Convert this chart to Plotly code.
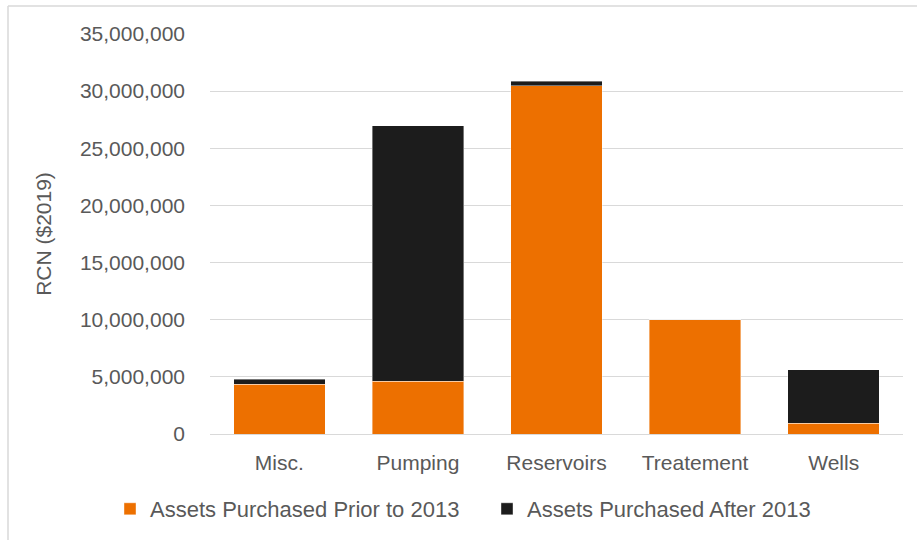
import plotly.graph_objects as go

categories = ["Misc.", "Pumping", "Reservoirs", "Treatement", "Wells"]
prior_2013 = [4350000, 4610000, 30470000, 9990000, 960000]
after_2013 = [440000, 22360000, 380000, 0, 4670000]
y_ticks = [0, 5000000, 10000000, 15000000, 20000000, 25000000, 30000000, 35000000]
y_tick_labels = [f"{v:,}" for v in y_ticks]

W, H = 917, 540
L, R, T, B = 210, 14, 34, 106
pw, ph = W - L - R, H - T - B

def px_x(p):
    return (p - L) / pw

def px_y(p):
    return (H - B - p) / ph

FAM = "Liberation Sans, Arial, sans-serif"
GREY = "#595959"

fig = go.Figure()
fig.add_trace(go.Bar(
    x=categories, y=prior_2013, name="Assets Purchased Prior to 2013",
    marker=dict(color="#ED7000", line=dict(color="rgba(255,255,255,0.4)", width=1)),
))
fig.add_trace(go.Bar(
    x=categories, y=after_2013, name="Assets Purchased After 2013",
    marker=dict(color="#1C1C1C", line=dict(color="rgba(255,255,255,0.4)", width=1)),
))

fig.update_layout(
    width=W, height=H,
    margin=dict(l=L, r=R, t=T, b=B, autoexpand=False),
    barmode="stack", bargap=0.34,
    plot_bgcolor="white", paper_bgcolor="white",
    font=dict(family=FAM, size=21, color=GREY),
    showlegend=True,
    legend=dict(orientation="h", x=px_x(110), xanchor="left", y=px_y(509), yanchor="middle",
                font=dict(family=FAM, size=22, color=GREY), traceorder="normal",
                itemwidth=30, entrywidth=332, entrywidthmode="pixels"),
    xaxis=dict(showgrid=False, showline=True, linecolor="#D9D9D9", linewidth=1,
               ticks="", tickfont=dict(family=FAM, size=21, color=GREY), ticklabelstandoff=10),
    yaxis=dict(range=[0, 35000000], tickvals=y_ticks, ticktext=y_tick_labels,
               showgrid=True, gridcolor="#D9D9D9", gridwidth=1, zeroline=False,
               ticks="", tickfont=dict(family=FAM, size=21, color=GREY), ticklabelstandoff=24,
               title=dict(text="RCN ($2019)", font=dict(family=FAM, size=21, color=GREY), standoff=22)),
    shapes=[
        dict(type="line", xref="paper", yref="paper", x0=px_x(8), x1=px_x(8), y0=px_y(6), y1=px_y(545),
             line=dict(color="#D9D9D9", width=1.5)),
        dict(type="line", xref="paper", yref="paper", x0=px_x(8), x1=px_x(925), y0=px_y(6), y1=px_y(6),
             line=dict(color="#D9D9D9", width=1.5)),
    ],
)

fig.write_html("out.html")
